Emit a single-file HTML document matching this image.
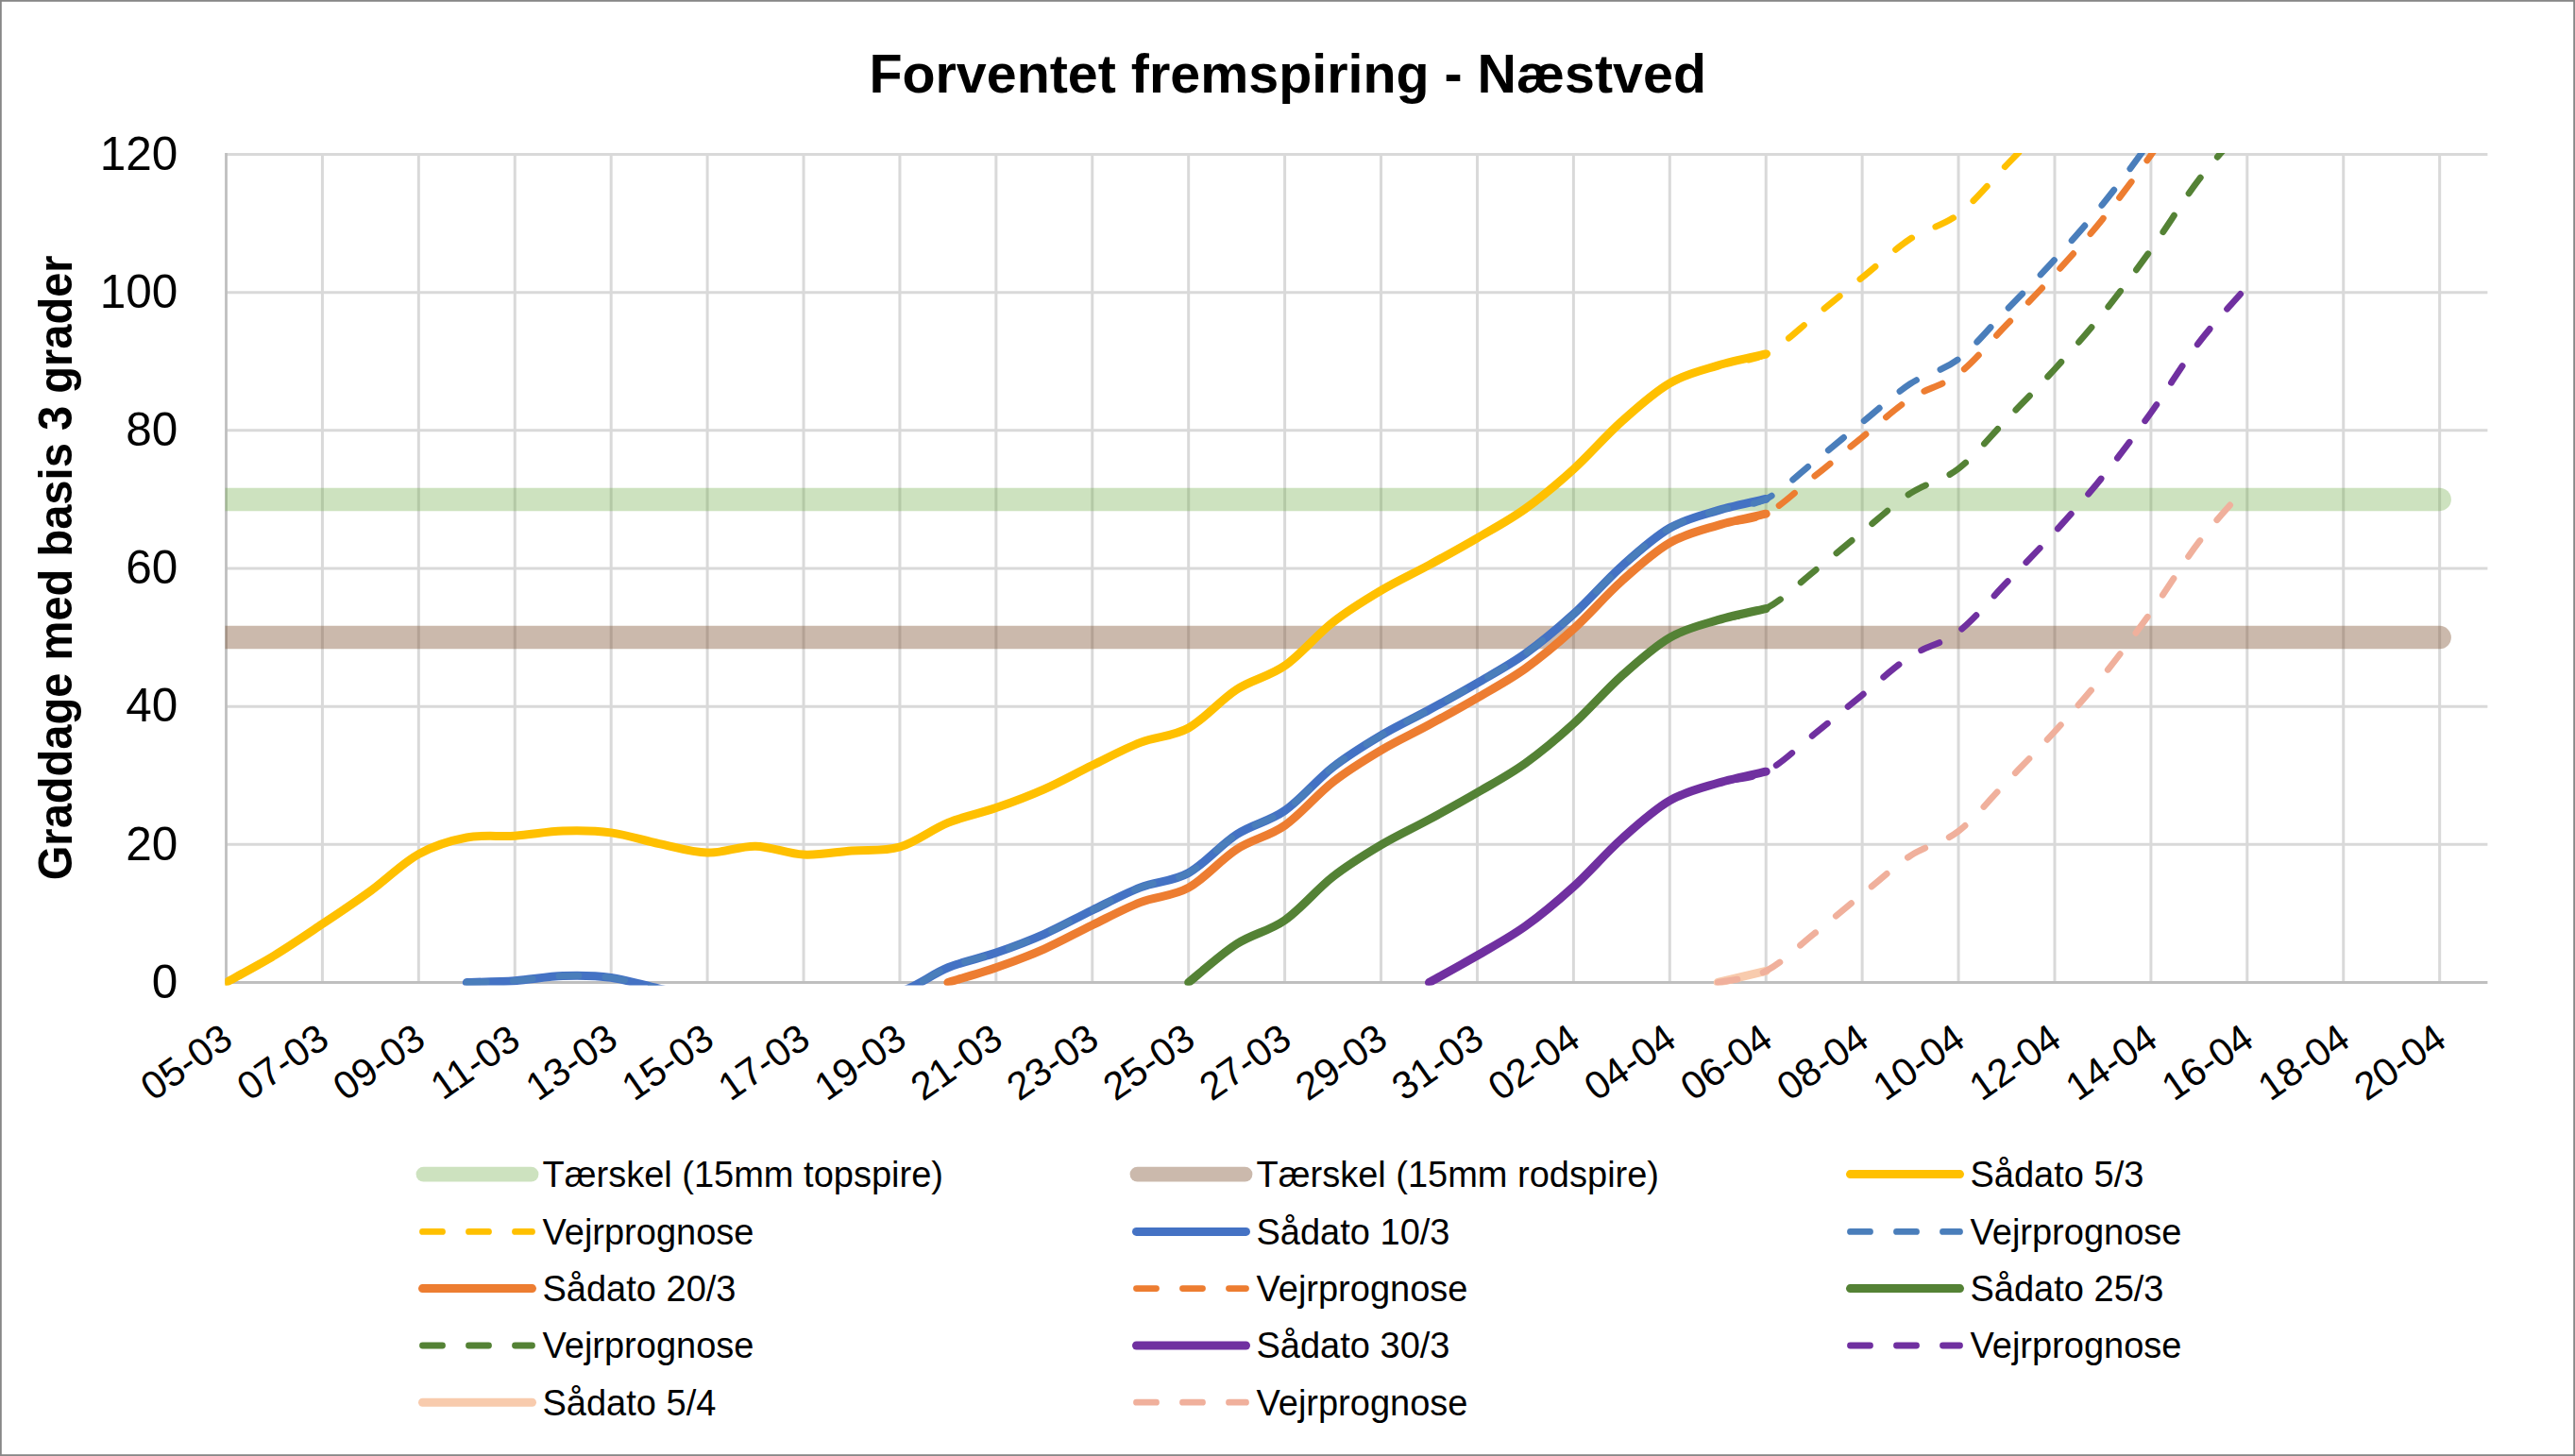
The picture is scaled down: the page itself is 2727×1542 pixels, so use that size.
<!DOCTYPE html><html><head><meta charset="utf-8"><style>html,body{margin:0;padding:0;background:#fff;overflow:hidden}svg{display:block}text{font-family:"Liberation Sans",sans-serif}</style></head><body>
<svg width="2727" height="1542" viewBox="0 0 2727 1542">
<rect x="0" y="0" width="2727" height="1542" fill="#fff"/>
<defs><clipPath id="pc"><rect x="238.50" y="162.00" width="2395.90" height="881.50"/></clipPath></defs>
<path d="M239.50,894.33H2634.40 M239.50,748.17H2634.40 M239.50,602.00H2634.40 M239.50,455.83H2634.40 M239.50,309.67H2634.40 M239.50,163.50H2634.40 M341.42,163.50V1040.50 M443.34,163.50V1040.50 M545.26,163.50V1040.50 M647.18,163.50V1040.50 M749.10,163.50V1040.50 M851.02,163.50V1040.50 M952.94,163.50V1040.50 M1054.86,163.50V1040.50 M1156.78,163.50V1040.50 M1258.70,163.50V1040.50 M1360.62,163.50V1040.50 M1462.54,163.50V1040.50 M1564.46,163.50V1040.50 M1666.38,163.50V1040.50 M1768.30,163.50V1040.50 M1870.22,163.50V1040.50 M1972.14,163.50V1040.50 M2074.06,163.50V1040.50 M2175.98,163.50V1040.50 M2277.90,163.50V1040.50 M2379.82,163.50V1040.50 M2481.74,163.50V1040.50 M2583.66,163.50V1040.50" stroke="#D9D9D9" stroke-width="3" fill="none"/>
<path d="M239.50,162.00V1040.50 M238.10,1040.50H2634.40" stroke="#BFBFBF" stroke-width="2.8" fill="none"/>
<text x="188.3" y="1056.80" font-size="49.5" text-anchor="end" fill="#000">0</text>
<text x="188.3" y="910.63" font-size="49.5" text-anchor="end" fill="#000">20</text>
<text x="188.3" y="764.47" font-size="49.5" text-anchor="end" fill="#000">40</text>
<text x="188.3" y="618.30" font-size="49.5" text-anchor="end" fill="#000">60</text>
<text x="188.3" y="472.13" font-size="49.5" text-anchor="end" fill="#000">80</text>
<text x="188.3" y="325.97" font-size="49.5" text-anchor="end" fill="#000">100</text>
<text x="188.3" y="179.80" font-size="49.5" text-anchor="end" fill="#000">120</text>
<text x="205.50" y="1136.50" font-size="41.5" text-anchor="middle" transform="rotate(-35 205.50 1136.50)" fill="#000">05-03</text>
<text x="307.42" y="1136.50" font-size="41.5" text-anchor="middle" transform="rotate(-35 307.42 1136.50)" fill="#000">07-03</text>
<text x="409.34" y="1136.50" font-size="41.5" text-anchor="middle" transform="rotate(-35 409.34 1136.50)" fill="#000">09-03</text>
<text x="511.26" y="1136.50" font-size="41.5" text-anchor="middle" transform="rotate(-35 511.26 1136.50)" fill="#000">11-03</text>
<text x="613.18" y="1136.50" font-size="41.5" text-anchor="middle" transform="rotate(-35 613.18 1136.50)" fill="#000">13-03</text>
<text x="715.10" y="1136.50" font-size="41.5" text-anchor="middle" transform="rotate(-35 715.10 1136.50)" fill="#000">15-03</text>
<text x="817.02" y="1136.50" font-size="41.5" text-anchor="middle" transform="rotate(-35 817.02 1136.50)" fill="#000">17-03</text>
<text x="918.94" y="1136.50" font-size="41.5" text-anchor="middle" transform="rotate(-35 918.94 1136.50)" fill="#000">19-03</text>
<text x="1020.86" y="1136.50" font-size="41.5" text-anchor="middle" transform="rotate(-35 1020.86 1136.50)" fill="#000">21-03</text>
<text x="1122.78" y="1136.50" font-size="41.5" text-anchor="middle" transform="rotate(-35 1122.78 1136.50)" fill="#000">23-03</text>
<text x="1224.70" y="1136.50" font-size="41.5" text-anchor="middle" transform="rotate(-35 1224.70 1136.50)" fill="#000">25-03</text>
<text x="1326.62" y="1136.50" font-size="41.5" text-anchor="middle" transform="rotate(-35 1326.62 1136.50)" fill="#000">27-03</text>
<text x="1428.54" y="1136.50" font-size="41.5" text-anchor="middle" transform="rotate(-35 1428.54 1136.50)" fill="#000">29-03</text>
<text x="1530.46" y="1136.50" font-size="41.5" text-anchor="middle" transform="rotate(-35 1530.46 1136.50)" fill="#000">31-03</text>
<text x="1632.38" y="1136.50" font-size="41.5" text-anchor="middle" transform="rotate(-35 1632.38 1136.50)" fill="#000">02-04</text>
<text x="1734.30" y="1136.50" font-size="41.5" text-anchor="middle" transform="rotate(-35 1734.30 1136.50)" fill="#000">04-04</text>
<text x="1836.22" y="1136.50" font-size="41.5" text-anchor="middle" transform="rotate(-35 1836.22 1136.50)" fill="#000">06-04</text>
<text x="1938.14" y="1136.50" font-size="41.5" text-anchor="middle" transform="rotate(-35 1938.14 1136.50)" fill="#000">08-04</text>
<text x="2040.06" y="1136.50" font-size="41.5" text-anchor="middle" transform="rotate(-35 2040.06 1136.50)" fill="#000">10-04</text>
<text x="2141.98" y="1136.50" font-size="41.5" text-anchor="middle" transform="rotate(-35 2141.98 1136.50)" fill="#000">12-04</text>
<text x="2243.90" y="1136.50" font-size="41.5" text-anchor="middle" transform="rotate(-35 2243.90 1136.50)" fill="#000">14-04</text>
<text x="2345.82" y="1136.50" font-size="41.5" text-anchor="middle" transform="rotate(-35 2345.82 1136.50)" fill="#000">16-04</text>
<text x="2447.74" y="1136.50" font-size="41.5" text-anchor="middle" transform="rotate(-35 2447.74 1136.50)" fill="#000">18-04</text>
<text x="2549.66" y="1136.50" font-size="41.5" text-anchor="middle" transform="rotate(-35 2549.66 1136.50)" fill="#000">20-04</text>
<g clip-path="url(#pc)">
<path d="M219.50,528.92H2583.66" stroke="#70AD47" stroke-opacity="0.35" stroke-width="24.5" stroke-linecap="round" fill="none"/>
<path d="M219.50,675.08H2583.66" stroke="#7D5030" stroke-opacity="0.4" stroke-width="24.5" stroke-linecap="round" fill="none"/>
<path d="M239.50,1040.50 C247.99,1035.75 273.47,1022.31 290.46,1012.00 C307.45,1001.68 324.43,990.00 341.42,978.60 C358.41,967.20 375.39,955.93 392.38,943.59 C409.37,931.25 426.35,913.99 443.34,904.57 C460.33,895.14 477.31,890.25 494.30,887.02 C511.29,883.80 528.27,886.36 545.26,885.20 C562.25,884.04 579.23,880.63 596.22,880.08 C613.21,879.53 630.19,879.66 647.18,881.91 C664.17,884.16 681.15,890.07 698.14,893.60 C715.13,897.13 732.11,902.68 749.10,903.10 C766.09,903.53 783.07,895.83 800.06,896.16 C817.05,896.49 834.03,904.28 851.02,905.08 C868.01,905.87 884.99,902.26 901.98,900.91 C918.97,899.56 935.95,901.90 952.94,896.96 C969.93,892.03 986.91,878.21 1003.90,871.31 C1020.89,864.42 1037.87,861.51 1054.86,855.60 C1071.85,849.69 1088.83,843.38 1105.82,835.87 C1122.81,828.35 1139.79,818.75 1156.78,810.51 C1173.77,802.26 1190.75,792.98 1207.74,786.39 C1224.73,779.80 1241.71,780.32 1258.70,770.97 C1275.69,761.61 1292.67,741.25 1309.66,730.26 C1326.65,719.27 1343.63,716.92 1360.62,705.05 C1377.61,693.17 1394.59,672.28 1411.58,659.00 C1428.57,645.73 1445.55,635.50 1462.54,625.39 C1479.53,615.28 1496.51,607.60 1513.50,598.35 C1530.49,589.09 1547.47,579.77 1564.46,569.84 C1581.45,559.92 1598.43,550.93 1615.42,538.78 C1632.41,526.64 1649.39,512.39 1666.38,496.98 C1683.37,481.57 1700.35,461.53 1717.34,446.33 C1734.33,431.13 1751.31,415.64 1768.30,405.77 C1785.29,395.91 1802.27,392.26 1819.26,387.13 C1836.25,382.01 1861.73,377.03 1870.22,375.00" stroke="#FFC000" stroke-width="9.00" stroke-linecap="round" stroke-linejoin="round" fill="none"/>
<path d="M239.50,1040.50 C247.99,1035.75 273.47,1022.31 290.46,1012.00 C307.45,1001.68 324.43,990.00 341.42,978.60 C358.41,967.20 375.39,955.93 392.38,943.59 C409.37,931.25 426.35,913.99 443.34,904.57 C460.33,895.14 477.31,890.25 494.30,887.02 C511.29,883.80 528.27,886.36 545.26,885.20 C562.25,884.04 579.23,880.63 596.22,880.08 C613.21,879.53 630.19,879.66 647.18,881.91 C664.17,884.16 681.15,890.07 698.14,893.60 C715.13,897.13 732.11,902.68 749.10,903.10 C766.09,903.53 783.07,895.83 800.06,896.16 C817.05,896.49 834.03,904.28 851.02,905.08 C868.01,905.87 884.99,902.26 901.98,900.91 C918.97,899.56 935.95,901.90 952.94,896.96 C969.93,892.03 986.91,878.21 1003.90,871.31 C1020.89,864.42 1037.87,861.51 1054.86,855.60 C1071.85,849.69 1088.83,843.38 1105.82,835.87 C1122.81,828.35 1139.79,818.75 1156.78,810.51 C1173.77,802.26 1190.75,792.98 1207.74,786.39 C1224.73,779.80 1241.71,780.32 1258.70,770.97 C1275.69,761.61 1292.67,741.25 1309.66,730.26 C1326.65,719.27 1343.63,716.92 1360.62,705.05 C1377.61,693.17 1394.59,672.28 1411.58,659.00 C1428.57,645.73 1445.55,635.50 1462.54,625.39 C1479.53,615.28 1496.51,607.60 1513.50,598.35 C1530.49,589.09 1547.47,579.77 1564.46,569.84 C1581.45,559.92 1598.43,550.93 1615.42,538.78 C1632.41,526.64 1649.39,512.39 1666.38,496.98 C1683.37,481.57 1700.35,461.53 1717.34,446.33 C1734.33,431.13 1751.31,415.64 1768.30,405.77 C1785.29,395.91 1802.27,392.26 1819.26,387.13 C1836.25,382.01 1853.23,383.60 1870.22,375.00 C1887.21,366.40 1904.19,349.06 1921.18,335.54 C1938.17,322.02 1955.15,307.64 1972.14,293.88 C1989.13,280.12 2006.11,264.12 2023.10,252.95 C2040.09,241.78 2057.07,239.90 2074.06,226.86 C2091.05,213.83 2108.03,192.33 2125.02,174.75 C2142.01,157.18 2158.99,140.10 2175.98,121.40 C2192.97,102.71 2209.95,83.64 2226.94,62.57 C2243.93,41.50 2260.91,18.66 2277.90,-5.03 C2294.89,-28.72 2311.87,-57.28 2328.86,-79.58 C2345.85,-101.87 2371.33,-128.91 2379.82,-138.77" stroke="#FFC000" stroke-width="6.80" stroke-linecap="round" stroke-linejoin="round" stroke-dasharray="21 28" fill="none"/>
<path d="M494.30,1040.50 C502.79,1040.20 528.27,1039.83 545.26,1038.67 C562.25,1037.52 579.23,1034.11 596.22,1033.56 C613.21,1033.01 630.19,1033.13 647.18,1035.38 C664.17,1037.64 681.15,1043.55 698.14,1047.08 C715.13,1050.61 732.11,1056.15 749.10,1056.58 C766.09,1057.00 783.07,1049.31 800.06,1049.64 C817.05,1049.96 834.03,1057.76 851.02,1058.55 C868.01,1059.34 884.99,1055.74 901.98,1054.39 C918.97,1053.03 935.95,1055.37 952.94,1050.44 C969.93,1045.51 986.91,1031.68 1003.90,1024.79 C1020.89,1017.89 1037.87,1014.98 1054.86,1009.07 C1071.85,1003.17 1088.83,996.86 1105.82,989.34 C1122.81,981.83 1139.79,972.23 1156.78,963.98 C1173.77,955.74 1190.75,946.45 1207.74,939.86 C1224.73,933.27 1241.71,933.80 1258.70,924.44 C1275.69,915.09 1292.67,894.72 1309.66,883.74 C1326.65,872.75 1343.63,870.40 1360.62,858.52 C1377.61,846.65 1394.59,825.76 1411.58,812.48 C1428.57,799.20 1445.55,788.97 1462.54,778.86 C1479.53,768.75 1496.51,761.08 1513.50,751.82 C1530.49,742.56 1547.47,733.25 1564.46,723.32 C1581.45,713.39 1598.43,704.40 1615.42,692.26 C1632.41,680.11 1649.39,665.86 1666.38,650.45 C1683.37,635.05 1700.35,615.01 1717.34,599.81 C1734.33,584.61 1751.31,569.11 1768.30,559.25 C1785.29,549.38 1802.27,545.74 1819.26,540.61 C1836.25,535.48 1861.73,530.50 1870.22,528.48" stroke="#4472C4" stroke-width="9.00" stroke-linecap="round" stroke-linejoin="round" fill="none"/>
<path d="M494.30,1040.50 C502.79,1040.20 528.27,1039.83 545.26,1038.67 C562.25,1037.52 579.23,1034.11 596.22,1033.56 C613.21,1033.01 630.19,1033.13 647.18,1035.38 C664.17,1037.64 681.15,1043.55 698.14,1047.08 C715.13,1050.61 732.11,1056.15 749.10,1056.58 C766.09,1057.00 783.07,1049.31 800.06,1049.64 C817.05,1049.96 834.03,1057.76 851.02,1058.55 C868.01,1059.34 884.99,1055.74 901.98,1054.39 C918.97,1053.03 935.95,1055.37 952.94,1050.44 C969.93,1045.51 986.91,1031.68 1003.90,1024.79 C1020.89,1017.89 1037.87,1014.98 1054.86,1009.07 C1071.85,1003.17 1088.83,996.86 1105.82,989.34 C1122.81,981.83 1139.79,972.23 1156.78,963.98 C1173.77,955.74 1190.75,946.45 1207.74,939.86 C1224.73,933.27 1241.71,933.80 1258.70,924.44 C1275.69,915.09 1292.67,894.72 1309.66,883.74 C1326.65,872.75 1343.63,870.40 1360.62,858.52 C1377.61,846.65 1394.59,825.76 1411.58,812.48 C1428.57,799.20 1445.55,788.97 1462.54,778.86 C1479.53,768.75 1496.51,761.08 1513.50,751.82 C1530.49,742.56 1547.47,733.25 1564.46,723.32 C1581.45,713.39 1598.43,704.40 1615.42,692.26 C1632.41,680.11 1649.39,665.86 1666.38,650.45 C1683.37,635.05 1700.35,615.01 1717.34,599.81 C1734.33,584.61 1751.31,569.11 1768.30,559.25 C1785.29,549.38 1802.27,545.74 1819.26,540.61 C1836.25,535.48 1853.23,537.08 1870.22,528.48 C1887.21,519.88 1904.19,502.53 1921.18,489.01 C1938.17,475.49 1955.15,461.12 1972.14,447.36 C1989.13,433.59 2006.11,417.60 2023.10,406.43 C2040.09,395.26 2057.07,393.37 2074.06,380.34 C2091.05,367.31 2108.03,345.81 2125.02,328.23 C2142.01,310.65 2158.99,293.58 2175.98,274.88 C2192.97,256.18 2209.95,237.12 2226.94,216.05 C2243.93,194.97 2260.91,172.14 2277.90,148.44 C2294.89,124.75 2311.87,96.19 2328.86,73.90 C2345.85,51.61 2371.33,24.57 2379.82,14.70" stroke="#4A7EBB" stroke-width="6.80" stroke-linecap="round" stroke-linejoin="round" stroke-dasharray="21 28" fill="none"/>
<path d="M1003.90,1040.50 C1012.39,1037.88 1037.87,1030.69 1054.86,1024.79 C1071.85,1018.88 1088.83,1012.57 1105.82,1005.05 C1122.81,997.54 1139.79,987.94 1156.78,979.69 C1173.77,971.45 1190.75,962.17 1207.74,955.58 C1224.73,948.99 1241.71,949.51 1258.70,940.16 C1275.69,930.80 1292.67,910.44 1309.66,899.45 C1326.65,888.46 1343.63,886.11 1360.62,874.24 C1377.61,862.36 1394.59,841.47 1411.58,828.19 C1428.57,814.92 1445.55,804.68 1462.54,794.57 C1479.53,784.46 1496.51,776.79 1513.50,767.53 C1530.49,758.28 1547.47,748.96 1564.46,739.03 C1581.45,729.10 1598.43,720.11 1615.42,707.97 C1632.41,695.83 1649.39,681.58 1666.38,666.17 C1683.37,650.76 1700.35,630.72 1717.34,615.52 C1734.33,600.32 1751.31,584.83 1768.30,574.96 C1785.29,565.09 1802.27,561.45 1819.26,556.32 C1836.25,551.19 1861.73,546.21 1870.22,544.19" stroke="#ED7D31" stroke-width="9.00" stroke-linecap="round" stroke-linejoin="round" fill="none"/>
<path d="M1003.90,1040.50 C1012.39,1037.88 1037.87,1030.69 1054.86,1024.79 C1071.85,1018.88 1088.83,1012.57 1105.82,1005.05 C1122.81,997.54 1139.79,987.94 1156.78,979.69 C1173.77,971.45 1190.75,962.17 1207.74,955.58 C1224.73,948.99 1241.71,949.51 1258.70,940.16 C1275.69,930.80 1292.67,910.44 1309.66,899.45 C1326.65,888.46 1343.63,886.11 1360.62,874.24 C1377.61,862.36 1394.59,841.47 1411.58,828.19 C1428.57,814.92 1445.55,804.68 1462.54,794.57 C1479.53,784.46 1496.51,776.79 1513.50,767.53 C1530.49,758.28 1547.47,748.96 1564.46,739.03 C1581.45,729.10 1598.43,720.11 1615.42,707.97 C1632.41,695.83 1649.39,681.58 1666.38,666.17 C1683.37,650.76 1700.35,630.72 1717.34,615.52 C1734.33,600.32 1751.31,584.83 1768.30,574.96 C1785.29,565.09 1802.27,561.45 1819.26,556.32 C1836.25,551.19 1853.23,552.79 1870.22,544.19 C1887.21,535.59 1904.19,518.25 1921.18,504.73 C1938.17,491.21 1955.15,476.83 1972.14,463.07 C1989.13,449.30 2006.11,433.31 2023.10,422.14 C2040.09,410.97 2057.07,409.08 2074.06,396.05 C2091.05,383.02 2108.03,361.52 2125.02,343.94 C2142.01,326.37 2158.99,309.29 2175.98,290.59 C2192.97,271.89 2209.95,252.83 2226.94,231.76 C2243.93,210.69 2260.91,187.85 2277.90,164.16 C2294.89,140.47 2311.87,111.90 2328.86,89.61 C2345.85,67.32 2371.33,40.28 2379.82,30.42" stroke="#ED7D31" stroke-width="6.80" stroke-linecap="round" stroke-linejoin="round" stroke-dasharray="21 28" fill="none"/>
<path d="M1258.70,1040.50 C1267.19,1033.72 1292.67,1010.78 1309.66,999.79 C1326.65,988.81 1343.63,986.45 1360.62,974.58 C1377.61,962.70 1394.59,941.81 1411.58,928.54 C1428.57,915.26 1445.55,905.03 1462.54,894.92 C1479.53,884.81 1496.51,877.13 1513.50,867.88 C1530.49,858.62 1547.47,849.30 1564.46,839.37 C1581.45,829.45 1598.43,820.46 1615.42,808.31 C1632.41,796.17 1649.39,781.92 1666.38,766.51 C1683.37,751.10 1700.35,731.07 1717.34,715.86 C1734.33,700.66 1751.31,685.17 1768.30,675.30 C1785.29,665.44 1802.27,661.79 1819.26,656.67 C1836.25,651.54 1861.73,646.56 1870.22,644.53" stroke="#548235" stroke-width="9.00" stroke-linecap="round" stroke-linejoin="round" fill="none"/>
<path d="M1258.70,1040.50 C1267.19,1033.72 1292.67,1010.78 1309.66,999.79 C1326.65,988.81 1343.63,986.45 1360.62,974.58 C1377.61,962.70 1394.59,941.81 1411.58,928.54 C1428.57,915.26 1445.55,905.03 1462.54,894.92 C1479.53,884.81 1496.51,877.13 1513.50,867.88 C1530.49,858.62 1547.47,849.30 1564.46,839.37 C1581.45,829.45 1598.43,820.46 1615.42,808.31 C1632.41,796.17 1649.39,781.92 1666.38,766.51 C1683.37,751.10 1700.35,731.07 1717.34,715.86 C1734.33,700.66 1751.31,685.17 1768.30,675.30 C1785.29,665.44 1802.27,661.79 1819.26,656.67 C1836.25,651.54 1853.23,653.13 1870.22,644.53 C1887.21,635.94 1904.19,618.59 1921.18,605.07 C1938.17,591.55 1955.15,577.18 1972.14,563.41 C1989.13,549.65 2006.11,533.65 2023.10,522.49 C2040.09,511.32 2057.07,509.43 2074.06,496.39 C2091.05,483.36 2108.03,461.86 2125.02,444.29 C2142.01,426.71 2158.99,409.63 2175.98,390.94 C2192.97,372.24 2209.95,353.18 2226.94,332.10 C2243.93,311.03 2260.91,288.19 2277.90,264.50 C2294.89,240.81 2311.87,212.25 2328.86,189.96 C2345.85,167.67 2371.33,140.62 2379.82,130.76" stroke="#548235" stroke-width="6.80" stroke-linecap="round" stroke-linejoin="round" stroke-dasharray="21 28" fill="none"/>
<path d="M1513.50,1040.50 C1521.99,1035.75 1547.47,1021.92 1564.46,1012.00 C1581.45,1002.07 1598.43,993.08 1615.42,980.94 C1632.41,968.79 1649.39,954.54 1666.38,939.13 C1683.37,923.73 1700.35,903.69 1717.34,888.49 C1734.33,873.29 1751.31,857.79 1768.30,847.93 C1785.29,838.06 1802.27,834.42 1819.26,829.29 C1836.25,824.16 1861.73,819.18 1870.22,817.16" stroke="#7030A0" stroke-width="9.00" stroke-linecap="round" stroke-linejoin="round" fill="none"/>
<path d="M1513.50,1040.50 C1521.99,1035.75 1547.47,1021.92 1564.46,1012.00 C1581.45,1002.07 1598.43,993.08 1615.42,980.94 C1632.41,968.79 1649.39,954.54 1666.38,939.13 C1683.37,923.73 1700.35,903.69 1717.34,888.49 C1734.33,873.29 1751.31,857.79 1768.30,847.93 C1785.29,838.06 1802.27,834.42 1819.26,829.29 C1836.25,824.16 1853.23,825.76 1870.22,817.16 C1887.21,808.56 1904.19,791.21 1921.18,777.69 C1938.17,764.17 1955.15,749.80 1972.14,736.03 C1989.13,722.27 2006.11,706.28 2023.10,695.11 C2040.09,683.94 2057.07,682.05 2074.06,669.02 C2091.05,655.98 2108.03,634.49 2125.02,616.91 C2142.01,599.33 2158.99,582.26 2175.98,563.56 C2192.97,544.86 2209.95,525.80 2226.94,504.73 C2243.93,483.65 2260.91,460.82 2277.90,437.12 C2294.89,413.43 2311.87,384.87 2328.86,362.58 C2345.85,340.29 2371.33,313.25 2379.82,303.38" stroke="#7030A0" stroke-width="6.80" stroke-linecap="round" stroke-linejoin="round" stroke-dasharray="21 28" fill="none"/>
<path d="M1819.26,1040.50 L1870.22,1028.37" stroke="#F8CBAD" stroke-width="9.00" stroke-linecap="round" stroke-linejoin="round" fill="none"/>
<path d="M1819.26,1040.50 C1827.75,1038.48 1853.23,1036.97 1870.22,1028.37 C1887.21,1019.77 1904.19,1002.42 1921.18,988.90 C1938.17,975.38 1955.15,961.01 1972.14,947.25 C1989.13,933.48 2006.11,917.49 2023.10,906.32 C2040.09,895.15 2057.07,893.26 2074.06,880.23 C2091.05,867.20 2108.03,845.70 2125.02,828.12 C2142.01,810.54 2158.99,793.47 2175.98,774.77 C2192.97,756.07 2209.95,737.01 2226.94,715.94 C2243.93,694.86 2260.91,672.03 2277.90,648.33 C2294.89,624.64 2311.87,596.08 2328.86,573.79 C2345.85,551.50 2371.33,524.46 2379.82,514.59" stroke="#F0B09C" stroke-width="6.80" stroke-linecap="round" stroke-linejoin="round" stroke-dasharray="21 28" fill="none"/>
</g>
<path d="M448.50,1243.60H562.50" stroke="#70AD47" stroke-opacity="0.35" stroke-width="15.8" stroke-linecap="round"/>
<text x="574.50" y="1256.90" font-size="38" fill="#000">Tærskel (15mm topspire)</text>
<path d="M1204.50,1243.60H1318.50" stroke="#7D5030" stroke-opacity="0.40" stroke-width="15.8" stroke-linecap="round"/>
<text x="1330.50" y="1256.90" font-size="38" fill="#000">Tærskel (15mm rodspire)</text>
<path d="M1959.50,1243.60H2075.50" stroke="#FFC000" stroke-width="9.00" stroke-linecap="round"/>
<text x="2086.50" y="1256.90" font-size="38" fill="#000">Sådato 5/3</text>
<path d="M447.50,1304.40H563.50" stroke="#FFC000" stroke-width="6.80" stroke-linecap="round" stroke-dasharray="21 28"/>
<text x="574.50" y="1317.70" font-size="38" fill="#000">Vejrprognose</text>
<path d="M1203.50,1304.40H1319.50" stroke="#4472C4" stroke-width="9.00" stroke-linecap="round"/>
<text x="1330.50" y="1317.70" font-size="38" fill="#000">Sådato 10/3</text>
<path d="M1959.50,1304.40H2075.50" stroke="#4A7EBB" stroke-width="6.80" stroke-linecap="round" stroke-dasharray="21 28"/>
<text x="2086.50" y="1317.70" font-size="38" fill="#000">Vejrprognose</text>
<path d="M447.50,1364.60H563.50" stroke="#ED7D31" stroke-width="9.00" stroke-linecap="round"/>
<text x="574.50" y="1377.90" font-size="38" fill="#000">Sådato 20/3</text>
<path d="M1203.50,1364.60H1319.50" stroke="#ED7D31" stroke-width="6.80" stroke-linecap="round" stroke-dasharray="21 28"/>
<text x="1330.50" y="1377.90" font-size="38" fill="#000">Vejrprognose</text>
<path d="M1959.50,1364.60H2075.50" stroke="#548235" stroke-width="9.00" stroke-linecap="round"/>
<text x="2086.50" y="1377.90" font-size="38" fill="#000">Sådato 25/3</text>
<path d="M447.50,1425.00H563.50" stroke="#548235" stroke-width="6.80" stroke-linecap="round" stroke-dasharray="21 28"/>
<text x="574.50" y="1438.30" font-size="38" fill="#000">Vejrprognose</text>
<path d="M1203.50,1425.00H1319.50" stroke="#7030A0" stroke-width="9.00" stroke-linecap="round"/>
<text x="1330.50" y="1438.30" font-size="38" fill="#000">Sådato 30/3</text>
<path d="M1959.50,1425.00H2075.50" stroke="#7030A0" stroke-width="6.80" stroke-linecap="round" stroke-dasharray="21 28"/>
<text x="2086.50" y="1438.30" font-size="38" fill="#000">Vejrprognose</text>
<path d="M447.50,1485.20H563.50" stroke="#F8CBAD" stroke-width="9.00" stroke-linecap="round"/>
<text x="574.50" y="1498.50" font-size="38" fill="#000">Sådato 5/4</text>
<path d="M1203.50,1485.20H1319.50" stroke="#F0B09C" stroke-width="6.80" stroke-linecap="round" stroke-dasharray="21 28"/>
<text x="1330.50" y="1498.50" font-size="38" fill="#000">Vejrprognose</text>
<text x="1363.7" y="97.5" font-size="57.4" font-weight="bold" text-anchor="middle" fill="#000">Forventet fremspiring - Næstved</text>
<text x="0" y="0" font-size="49.7" font-weight="bold" text-anchor="middle" textLength="662" lengthAdjust="spacingAndGlyphs" transform="translate(75.7 601.3) rotate(-90)" fill="#000">Graddage med basis 3 grader</text>
<rect x="0.9" y="0.9" width="2725.20" height="1540.20" fill="none" stroke="#878787" stroke-width="1.8"/>
</svg></body></html>
